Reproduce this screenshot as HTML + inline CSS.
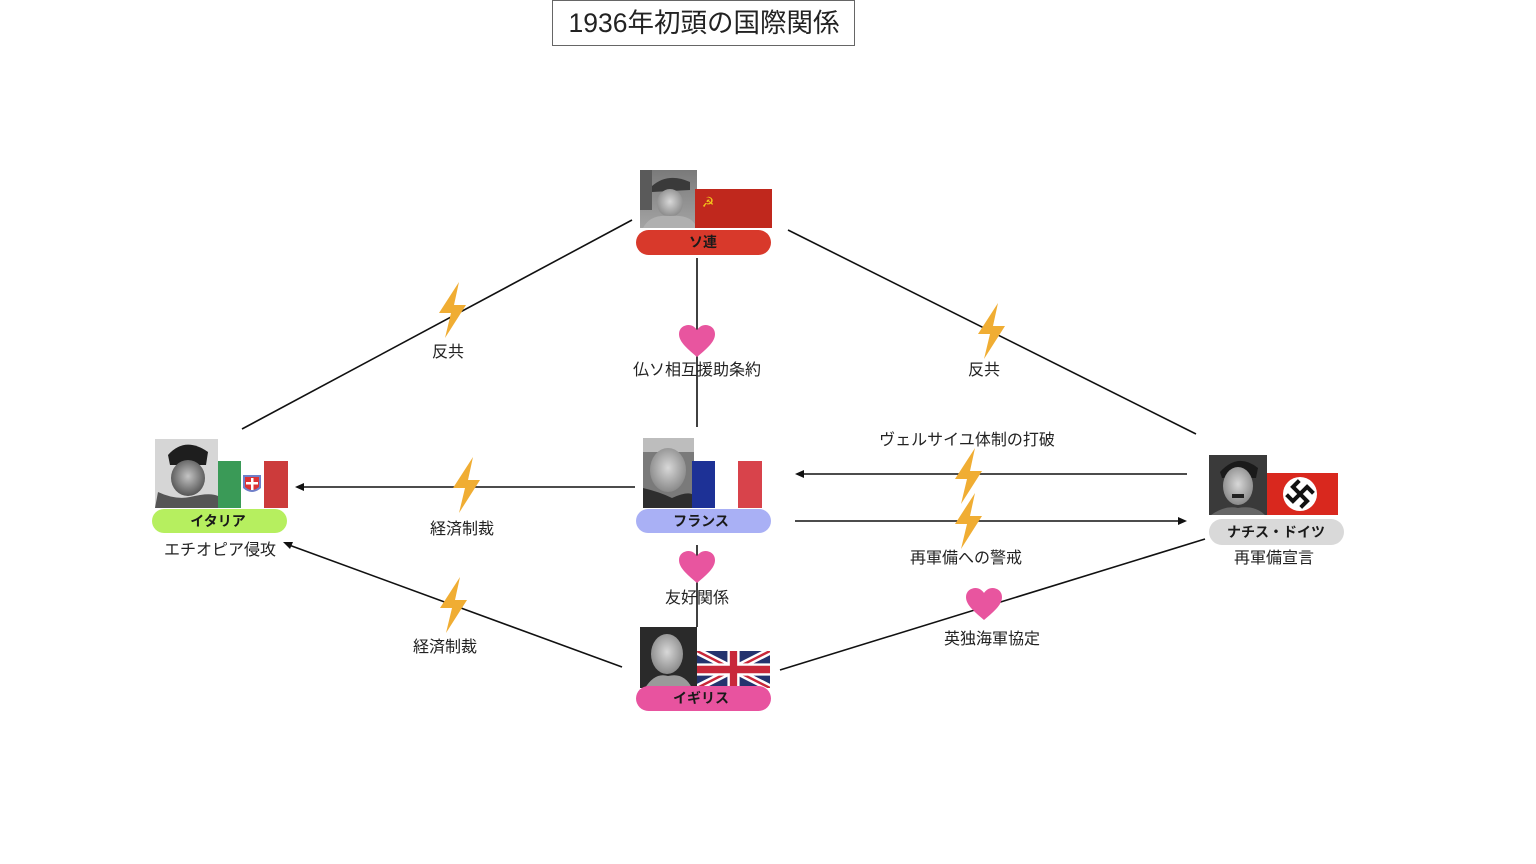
<!DOCTYPE html>
<html><head><meta charset="utf-8">
<style>
html,body{margin:0;padding:0;background:#fff;}
svg{display:block;}
text{font-family:"Liberation Sans","Noto Sans CJK JP",sans-serif;}
.lbl{font-size:16px;fill:#222;text-anchor:middle;}
.pill{font-size:14px;font-weight:bold;fill:#1a1a1a;text-anchor:middle;}
</style></head>
<body>
<svg width="1536" height="864" viewBox="0 0 1536 864" xmlns="http://www.w3.org/2000/svg">
<defs>
  <linearGradient id="gs1" x1="0" y1="0" x2="0" y2="1"><stop offset="0" stop-color="#7a7a7a"/><stop offset="1" stop-color="#a4a4a4"/></linearGradient>
  <radialGradient id="face" cx="0.5" cy="0.45" r="0.55"><stop offset="0" stop-color="#d8d8d8"/><stop offset="1" stop-color="#8a8a8a"/></radialGradient>
  <radialGradient id="faceD" cx="0.5" cy="0.45" r="0.55"><stop offset="0" stop-color="#c4c4c4"/><stop offset="1" stop-color="#555"/></radialGradient>
  <g id="bolt"><polygon points="22,0 2,31 14,31 8,56 29,23 17,23" fill="#f0ad33"/></g>
  <g id="heart"><path d="M18,32 C6,22 0,16 0,9 C0,3 5,0 9.5,0 C13,0 16,2 18,5 C20,2 23,0 26.5,0 C31,0 36,3 36,9 C36,16 30,22 18,32 Z" fill="#e8559f"/></g>
</defs>

<!-- Title -->
<rect x="552.5" y="0.5" width="302" height="45" fill="#fff" stroke="#666" stroke-width="1"/>
<text x="704" y="32" style="font-size:26.5px;fill:#222;text-anchor:middle;">1936年初頭の国際関係</text>

<!-- Labels (under lines) -->
<text class="lbl" x="448" y="357">反共</text>
<text class="lbl" x="984" y="375">反共</text>
<text class="lbl" x="697" y="375">仏ソ相互援助条約</text>
<text class="lbl" x="462" y="534">経済制裁</text>
<text class="lbl" x="967" y="445">ヴェルサイユ体制の打破</text>
<text class="lbl" x="966" y="563">再軍備への警戒</text>
<text class="lbl" x="697" y="603">友好関係</text>
<text class="lbl" x="445" y="652">経済制裁</text>
<text class="lbl" x="992" y="644">英独海軍協定</text>
<text class="lbl" x="220" y="555">エチオピア侵攻</text>
<text class="lbl" x="1274" y="563">再軍備宣言</text>

<!-- Lines -->
<g stroke="#111" stroke-width="1.6" fill="none">
  <line x1="632" y1="220" x2="242" y2="429"/>
  <line x1="788" y1="230" x2="1196" y2="434"/>
  <line x1="697" y1="258" x2="697" y2="427"/>
  <line x1="635" y1="487" x2="302" y2="487"/>
  <line x1="1187" y1="474" x2="802" y2="474"/>
  <line x1="795" y1="521" x2="1180" y2="521"/>
  <line x1="697" y1="545" x2="697" y2="627"/>
  <line x1="622" y1="667" x2="289" y2="545"/>
  <line x1="780" y1="670" x2="1205" y2="539"/>
</g>
<!-- Arrowheads -->
<g fill="#111">
  <polygon points="295,487 304,483 304,491"/>
  <polygon points="795,474 804,470 804,478"/>
  <polygon points="1187,521 1178,517 1178,525"/>
  <polygon points="283,542 293,542 290,549"/>
</g>

<!-- Icons -->
<use href="#bolt" x="437" y="282"/>
<use href="#bolt" x="976" y="303"/>
<use href="#bolt" x="451" y="457"/>
<use href="#bolt" x="953" y="448"/>
<use href="#bolt" x="953" y="493"/>
<use href="#bolt" x="438" y="577"/>
<use href="#heart" x="679" y="325"/>
<use href="#heart" x="679" y="551"/>
<use href="#heart" x="966" y="588"/>

<!-- Soviet node -->
<rect x="640" y="170" width="57" height="58" fill="url(#gs1)"/>
<rect x="640" y="170" width="12" height="40" fill="#5a5a5a"/>
<path d="M652,186 Q668,172 690,182 L690,190 L652,192 Z" fill="#3a3a3a"/>
<ellipse cx="670" cy="203" rx="13" ry="14" fill="url(#face)"/>
<path d="M643,228 Q650,214 670,216 Q692,214 697,228 Z" fill="#b0b0b0"/>
<rect x="695" y="189" width="77" height="39" fill="#c0281d"/>
<text x="708" y="207" style="font-size:14px;fill:#f2c21b;text-anchor:middle;">☭</text>
<rect x="636" y="230" width="135" height="25" rx="12.5" fill="#d8392b"/>
<text class="pill" x="703" y="247">ソ連</text>

<!-- France node -->
<rect x="643" y="438" width="51" height="70" fill="#7a7a7a"/>
<rect x="643" y="438" width="51" height="14" fill="#bdbdbd"/>
<ellipse cx="668" cy="470" rx="18" ry="22" fill="url(#face)"/>
<path d="M643,508 L643,488 Q660,492 672,498 Q690,490 694,496 L694,508 Z" fill="#2e2e2e"/>
<rect x="692" y="461" width="23" height="47" fill="#1d3196"/>
<rect x="715" y="461" width="23" height="47" fill="#ffffff"/>
<rect x="738" y="461" width="24" height="47" fill="#d8434b"/>
<rect x="636" y="509" width="135" height="24" rx="12" fill="#a9b0f5"/>
<text class="pill" x="701" y="526">フランス</text>

<!-- Italy node -->
<rect x="155" y="439" width="63" height="69" fill="#d6d6d6"/>
<path d="M168,455 Q185,436 208,452 L206,465 L170,465 Z" fill="#1e1e1e"/>
<ellipse cx="188" cy="478" rx="17" ry="18" fill="url(#faceD)"/>
<path d="M155,508 L158,492 Q175,500 190,497 Q210,492 218,496 L218,508 Z" fill="#555"/>
<rect x="218" y="461" width="23" height="47" fill="#3a9a57"/>
<rect x="241" y="461" width="23" height="47" fill="#ffffff"/>
<rect x="264" y="461" width="24" height="47" fill="#cc3b3b"/>
<path d="M243,475 L261,475 L261,488 Q252,496 243,488 Z" fill="#6f7fc9"/>
<path d="M245,477 L259,477 L259,487 Q252,493 245,487 Z" fill="#d33"/>
<rect x="251" y="478" width="2.5" height="12" fill="#fff"/>
<rect x="246" y="482" width="12" height="2.5" fill="#fff"/>
<rect x="152" y="509" width="135" height="24" rx="12" fill="#b6ef5f"/>
<text class="pill" x="218" y="526">イタリア</text>

<!-- UK node -->
<rect x="640" y="627" width="57" height="61" fill="#2a2a2a"/>
<ellipse cx="667" cy="654" rx="16" ry="20" fill="url(#face)"/>
<path d="M645,688 Q655,672 668,676 Q684,672 692,688 Z" fill="#9a9a9a"/>
<svg x="697" y="651" width="73" height="37" viewBox="0 0 60 30" preserveAspectRatio="none">
  <rect width="60" height="30" fill="#24336e"/>
  <path d="M0,0 L60,30 M60,0 L0,30" stroke="#fff" stroke-width="6"/>
  <path d="M0,0 L60,30 M60,0 L0,30" stroke="#c8283a" stroke-width="2"/>
  <path d="M30,0 V30 M0,15 H60" stroke="#fff" stroke-width="10"/>
  <path d="M30,0 V30 M0,15 H60" stroke="#c8283a" stroke-width="6"/>
</svg>
<rect x="636" y="686" width="135" height="25" rx="12.5" fill="#e8539f"/>
<text class="pill" x="701" y="703">イギリス</text>

<!-- Germany node -->
<rect x="1209" y="455" width="58" height="60" fill="#3a3a3a"/>
<path d="M1220,472 Q1238,452 1258,468 L1256,478 L1222,478 Z" fill="#1a1a1a"/>
<ellipse cx="1238" cy="486" rx="15" ry="19" fill="url(#face)"/>
<rect x="1232" y="494" width="12" height="4" fill="#222"/>
<path d="M1211,515 Q1225,505 1238,508 Q1255,505 1265,515 Z" fill="#666"/>
<rect x="1267" y="473" width="71" height="42" fill="#d9281e"/>
<circle cx="1300" cy="494" r="17" fill="#fff"/>
<g transform="translate(1300,494) rotate(45)" stroke="#111" stroke-width="4" fill="none" stroke-linecap="square">
  <path d="M0,-10 V10 M-10,0 H10 M0,-10 H7 M10,0 V7 M0,10 H-7 M-10,0 V-7"/>
</g>
<rect x="1209" y="519" width="135" height="26" rx="13" fill="#d9d9d9"/>
<text class="pill" x="1276" y="537">ナチス・ドイツ</text>
</svg>
</body></html>
